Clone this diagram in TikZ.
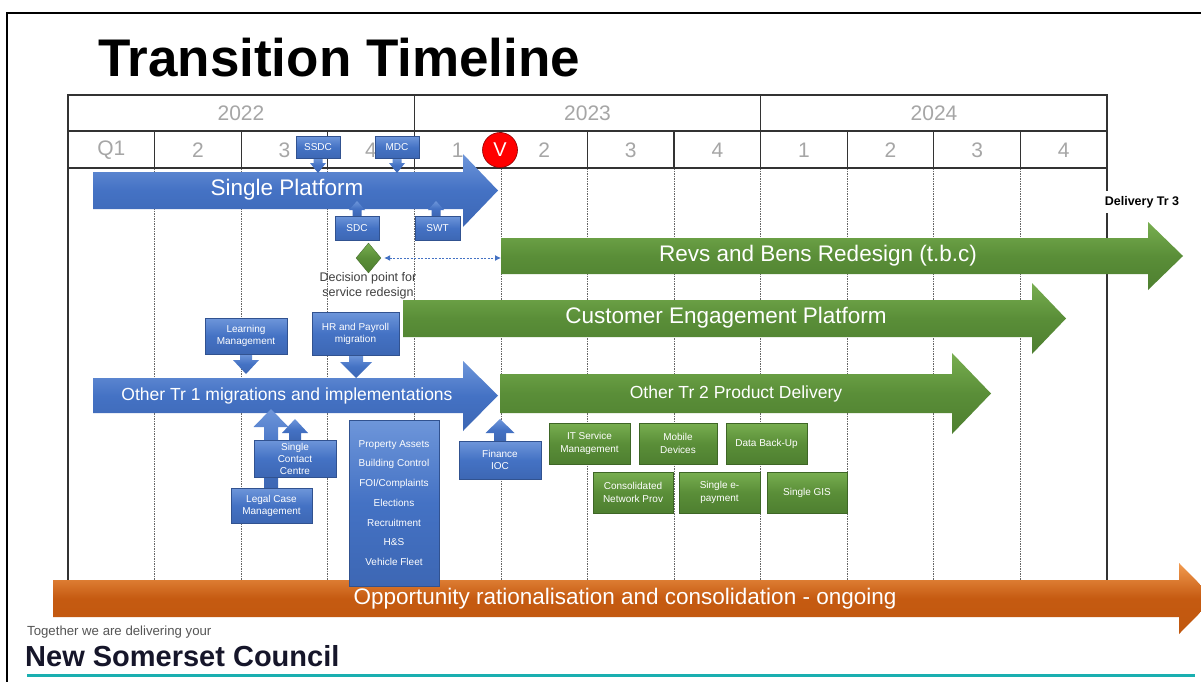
\documentclass[tikz,border=0pt]{standalone}
\usepackage{fontspec}
\setmainfont{Liberation Sans}
\usetikzlibrary{arrows.meta,shapes.geometric}
\definecolor{bluemain}{HTML}{4472C4}
\definecolor{bluelight}{HTML}{6E96DA}
\definecolor{bluedark}{HTML}{3D67B4}
\definecolor{greenmain}{HTML}{5A8E38}
\definecolor{greenlight}{HTML}{78AE50}
\definecolor{greendark}{HTML}{4E7F30}
\definecolor{orangemain}{HTML}{C55A11}
\definecolor{orangelight}{HTML}{F29B50}
\definecolor{orangedark}{HTML}{C0580F}
\definecolor{labgray}{HTML}{A6A6A6}
\definecolor{tealline}{HTML}{1AAFB0}
\definecolor{navy}{HTML}{16162A}
\definecolor{taggray}{HTML}{555555}
\definecolor{notegray}{HTML}{404040}
\newcommand{\tlarrow}[8]{\path[#1] (#2,#5) -- (#3,#5) -- (#3,#7) -- (#4,{(#5+#6)/2}) -- (#3,#8) -- (#3,#6) -- (#2,#6) -- cycle;}
\newcommand{\calarrow}[7]{\path[#1] ({#2-#6},#3) -- ({#2+#6},#3) -- ({#2+#6},#4) -- ({#2+#7},#4) -- (#2,#5) -- ({#2-#7},#4) -- ({#2-#6},#4) -- cycle;}
\tikzset{
  gridline/.style={line width=1.3pt, draw=black!80},
  dashgrid/.style={line width=0.7pt, draw=black!60, dash pattern=on 1.5pt off 1pt},
  bluefill/.style={top color=bluelight, bottom color=bluedark, middle color=bluemain},
  greenfill/.style={top color=greenlight, bottom color=greendark, middle color=greenmain},
  orangefill/.style={top color=orangelight, bottom color=orangedark, middle color=orangemain},
  bluebox/.style={bluefill, draw=bluedark!80!black, line width=0.3pt, text=white, align=center, inner sep=0pt, font=\fontsize{10}{12}\selectfont},
  greenbox/.style={greenfill, draw=greendark!80!black, line width=0.3pt, text=white, align=center, inner sep=0pt, font=\fontsize{10}{13}\selectfont},
  bigtext/.style={text=white, font=\fontsize{22.5}{27}\selectfont, inner sep=0pt},
  midtext/.style={text=white, font=\fontsize{17.5}{21}\selectfont, inner sep=0pt},
  yearlabel/.style={text=labgray, font=\fontsize{21}{24}\selectfont, inner sep=0pt},
}
\begin{document}
\begin{tikzpicture}[x=1pt,y=-1pt]
\useasboundingbox (0,0) rectangle (1201,682);
\fill[white] (0,0) rectangle (1201,682);
% frame
\draw[line width=2pt, black] (7,682) -- (7,13) -- (1201,13);
% title
\node[anchor=base west, inner sep=0pt, font=\fontsize{53}{60}\selectfont\bfseries] (title) at (98,77) {Transition Timeline};
% body grid lines
\foreach \i in {1,...,11} \draw[dashgrid] ({68+86.583*\i},168) -- ({68+86.583*\i},580);
\draw[gridline] (68,168) -- (68,580);
\draw[gridline] (1107,168) -- (1107,580);
% header
\draw[gridline] (68,95) rectangle (1107,168);
\draw[gridline] (68,131) -- (1107,131);
\draw[gridline] (414.33,95) -- (414.33,168);
\draw[gridline] (760.67,95) -- (760.67,168);
\foreach \i in {1,...,11} \draw[gridline] ({68+86.583*\i},131) -- ({68+86.583*\i},168);
\node[yearlabel] (y22) at (241,113) {2022};
\node[yearlabel] (y23) at (587.5,113) {2023};
\node[yearlabel] (y24) at (934,113) {2024};
\foreach \t [count=\i from 0] in {Q1,2,3,4,1,2,3,4,1,2,3,4}
  \node[yearlabel] (q\i) at ({68+86.583*(\i+0.5)},150) {\t};
% Delivery Tr 3
\node[fill=white, inner xsep=1pt, inner ysep=5pt, font=\fontsize{12.5}{14}\selectfont\bfseries] (deliv) at (1142,202) {Delivery Tr 3};
% big arrows
\tlarrow{bluefill}{93}{463}{498}{172}{209}{154}{227}
\node[bigtext] (sp) at (287,190) {Single Platform};
\tlarrow{greenfill}{501}{1148}{1183}{238}{274}{222}{290}
\node[bigtext] (revs) at (818,256) {Revs and Bens Redesign (t.b.c)};
\tlarrow{greenfill}{403}{1032}{1066}{300}{337}{283}{354}
\node[bigtext] (cep) at (726,318) {Customer Engagement Platform};
\tlarrow{bluefill}{93}{463}{498}{378}{413}{361}{431}
\node[midtext] (tr1) at (287,395.5) {Other Tr 1 migrations and implementations};
\tlarrow{greenfill}{500}{952}{991}{374}{413}{353}{434}
\node[midtext] (tr2) at (736,393.5) {Other Tr 2 Product Delivery};
% V milestone
\node[circle, fill=red, draw=red!55!black, line width=0.6pt, minimum size=35pt, inner sep=0pt, text=white, font=\fontsize{20}{22}\selectfont] (v) at (500,150) {V};
% callouts above / below single platform
\calarrow{bluefill}{318}{158}{163}{173}{4.5}{8}
\node[bluebox, minimum width=44pt, minimum height=22pt] (ssdc) at (318,147.5) {SSDC};
\calarrow{bluefill}{397}{158}{163}{173}{4.5}{8}
\node[bluebox, minimum width=44pt, minimum height=22pt] (mdc) at (397,147.5) {MDC};
\calarrow{bluefill}{357}{216}{210}{201}{4.5}{8}
\node[bluebox, minimum width=44pt, minimum height=24pt] (sdc) at (357,228) {SDC};
\calarrow{bluefill}{436}{216}{210}{201}{4.5}{8}
\node[bluebox, minimum width=45pt, minimum height=24pt] (swt) at (437.5,228) {SWT};
% decision point
\node[diamond, greenfill, draw=greendark!80!black, line width=0.3pt, minimum width=25pt, minimum height=30pt, inner sep=0pt] (dp) at (368.5,258) {};
\coordinate (revsstart) at (501,258);
\draw[bluemain, line width=1pt, dash pattern=on 2pt off 1.5pt, {Latex[length=6pt,width=6pt]}-{Latex[length=6pt,width=6pt]}] (dp.east) ++(3,0) -- (revsstart);
\node[text=notegray, align=center, inner sep=0pt, font=\fontsize{12.5}{15}\selectfont] (dptext) at (368,285.5) {Decision point for\\service redesign};
% Tr1 callouts
\calarrow{bluefill}{246}{354}{360}{374}{6}{13}
\node[bluebox, minimum width=82pt, minimum height=36pt] (learn) at (246,336) {Learning\\Management};
\calarrow{bluefill}{356}{355}{362}{378}{7}{16}
\node[bluebox, minimum width=87pt, minimum height=43pt] (hr) at (355.5,333.5) {HR and Payroll\\migration};
\calarrow{bluefill}{271}{488}{427}{409}{7}{17.5}
\calarrow{bluefill}{295}{440}{433}{419}{6}{13}
\node[bluebox, minimum width=82pt, minimum height=37pt] (scc) at (295,458.5) {Single\\Contact\\Centre};
\node[bluebox, minimum width=81pt, minimum height=35pt] (legal) at (271.5,505.5) {Legal Case\\Management};
\calarrow{bluefill}{500}{441}{433}{419}{6}{14.5}
\node[bluebox, minimum width=82pt, minimum height=38pt] (fin) at (500,460) {Finance\\IOC};
% Tr2 boxes
\node[greenbox, minimum width=81pt, minimum height=41pt] (itsm) at (589.5,443.5) {IT Service\\Management};
\node[greenbox, minimum width=78pt, minimum height=41pt] (mob) at (678,443.5) {Mobile\\Devices};
\node[greenbox, minimum width=81pt, minimum height=41pt] (dbu) at (766.5,443.5) {Data Back-Up};
\node[greenbox, minimum width=80pt, minimum height=41pt] (cnp) at (633,492.5) {Consolidated\\Network Prov};
\node[greenbox, minimum width=81pt, minimum height=41pt] (sep) at (719.5,492.5) {Single e-\\payment};
\node[greenbox, minimum width=80pt, minimum height=41pt] (gis) at (807,492.5) {Single GIS};
% orange arrow
\tlarrow{orangefill}{53}{1179}{1214}{580}{617}{563}{634}
\node[bigtext] (opp) at (625,599) {Opportunity rationalisation and consolidation - ongoing};
% property box
\node[bluebox, minimum width=90pt, minimum height=166pt, font=\fontsize{10}{19.7}\selectfont] (prop) at (394,503) {Property Assets\\Building Control\\FOI/Complaints\\Elections\\Recruitment\\H\&S\\Vehicle Fleet};
% logo
\node[anchor=west, inner sep=0pt, text=taggray, font=\fontsize{13.2}{15}\selectfont] (tag) at (27,632) {Together we are delivering your};
\node[anchor=west, inner sep=0pt, text=navy, font=\fontsize{29}{32}\selectfont\bfseries] (nsc) at (25,656) {New Somerset Council};
\draw[tealline, line width=3pt] (27,675) -- (1195,675);
\end{tikzpicture}
\end{document}
